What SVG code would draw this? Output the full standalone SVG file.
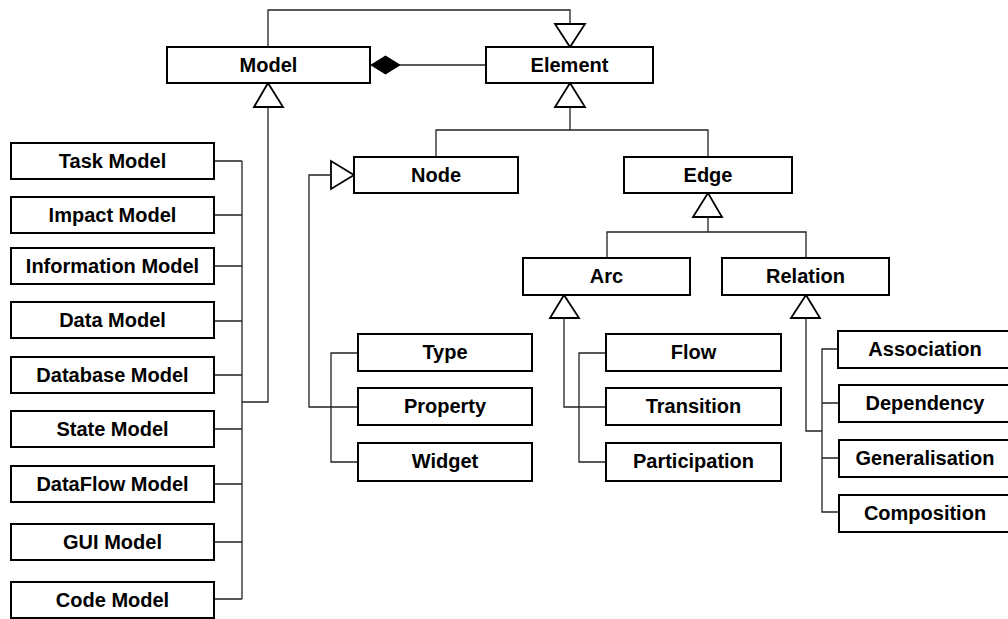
<svg xmlns="http://www.w3.org/2000/svg" width="1008" height="619" viewBox="0 0 1008 619">
<style>
.box rect{fill:#fff;stroke:#000;stroke-width:2}
.box text{font-family:"Liberation Sans",Arial,sans-serif;font-weight:bold;font-size:20px;text-anchor:middle;fill:#000}
#connectors path,#connectors line{fill:none;stroke:#222;stroke-width:1.3}
#connectors .tri{fill:#fff;stroke:#000;stroke-width:1.8}
#connectors .dia{fill:#000;stroke:#000;stroke-width:1}
</style>
<rect width="1008" height="619" fill="#fff"/>
<g id="connectors">
<path d="M268,47 V10 H570 V24"/>
<polygon class="tri" points="555,24 585,24 570,47"/>
<line x1="400" y1="65" x2="486" y2="65"/>
<polygon class="dia" points="371,65 385.5,56 400,65 385.5,74"/>
<polygon class="tri" points="268,83 254,107 283,107"/>
<path d="M268,107 V402 H242"/>
<path d="M242,161 V599"/>
<path d="M214,161 H242 M214,215 H242 M214,266 H242 M214,321 H242 M214,375 H242 M214,429 H242 M214,484 H242 M214,542 H242 M214,599 H242"/>
<polygon class="tri" points="570,83 555,107 585,107"/>
<path d="M570,107 V130 M436,157 V130 H708 V157"/>
<polygon class="tri" points="354,175 331,161 331,189"/>
<path d="M331,175 H309 V407 H358"/>
<path d="M358,353 H331 V462 H358"/>
<polygon class="tri" points="708,193 693,217 722,217"/>
<path d="M708,217 V232 M607,258 V232 H806 V258"/>
<polygon class="tri" points="564,295 550,318 579,318"/>
<path d="M564,318 V407 H606"/>
<path d="M606,353 H579 V462 H606"/>
<polygon class="tri" points="806,295 791,318 820,318"/>
<path d="M806,318 V431 H822"/>
<path d="M838,349 H822 V512 H838 M822,403 H839 M822,458 H839"/>
</g>
<g id="node-model" class="box"><rect x="167" y="47" width="203" height="36"/><text x="268.5" y="72">Model</text></g>
<g id="node-element" class="box"><rect x="486" y="47" width="167" height="36"/><text x="569.5" y="72">Element</text></g>
<g id="node-task" class="box"><rect x="11" y="143" width="203" height="36"/><text x="112.5" y="168">Task Model</text></g>
<g id="node-impact" class="box"><rect x="11" y="197" width="203" height="36"/><text x="112.5" y="222">Impact Model</text></g>
<g id="node-information" class="box"><rect x="11" y="248" width="203" height="36"/><text x="112.5" y="273">Information Model</text></g>
<g id="node-data" class="box"><rect x="11" y="302" width="203" height="36"/><text x="112.5" y="327">Data Model</text></g>
<g id="node-database" class="box"><rect x="11" y="357" width="203" height="36"/><text x="112.5" y="382">Database Model</text></g>
<g id="node-state" class="box"><rect x="11" y="411" width="203" height="36"/><text x="112.5" y="436">State Model</text></g>
<g id="node-dataflow" class="box"><rect x="11" y="466" width="203" height="36"/><text x="112.5" y="491">DataFlow Model</text></g>
<g id="node-gui" class="box"><rect x="11" y="524" width="203" height="36"/><text x="112.5" y="549">GUI Model</text></g>
<g id="node-code" class="box"><rect x="11" y="582" width="203" height="36"/><text x="112.5" y="607">Code Model</text></g>
<g id="node-node" class="box"><rect x="354" y="157" width="164" height="36"/><text x="436" y="182">Node</text></g>
<g id="node-edge" class="box"><rect x="624" y="157" width="168" height="36"/><text x="708" y="182">Edge</text></g>
<g id="node-arc" class="box"><rect x="523" y="258" width="167" height="37"/><text x="606.5" y="283">Arc</text></g>
<g id="node-relation" class="box"><rect x="722" y="258" width="167" height="37"/><text x="805.5" y="283">Relation</text></g>
<g id="node-type" class="box"><rect x="358" y="334" width="174" height="37"/><text x="445" y="359">Type</text></g>
<g id="node-property" class="box"><rect x="358" y="388" width="174" height="37"/><text x="445" y="413">Property</text></g>
<g id="node-widget" class="box"><rect x="358" y="443" width="174" height="38"/><text x="445" y="468">Widget</text></g>
<g id="node-flow" class="box"><rect x="606" y="334" width="175" height="37"/><text x="693.5" y="359">Flow</text></g>
<g id="node-transition" class="box"><rect x="606" y="388" width="175" height="37"/><text x="693.5" y="413">Transition</text></g>
<g id="node-participation" class="box"><rect x="606" y="443" width="175" height="38"/><text x="693.5" y="468">Participation</text></g>
<g id="node-association" class="box"><rect x="838" y="331" width="172" height="37"/><text x="925" y="356">Association</text></g>
<g id="node-dependency" class="box"><rect x="839" y="385" width="171" height="37"/><text x="925" y="410">Dependency</text></g>
<g id="node-generalisation" class="box"><rect x="839" y="440" width="171" height="37"/><text x="925" y="465">Generalisation</text></g>
<g id="node-composition" class="box"><rect x="839" y="495" width="171" height="37"/><text x="925" y="520">Composition</text></g>
</svg>
